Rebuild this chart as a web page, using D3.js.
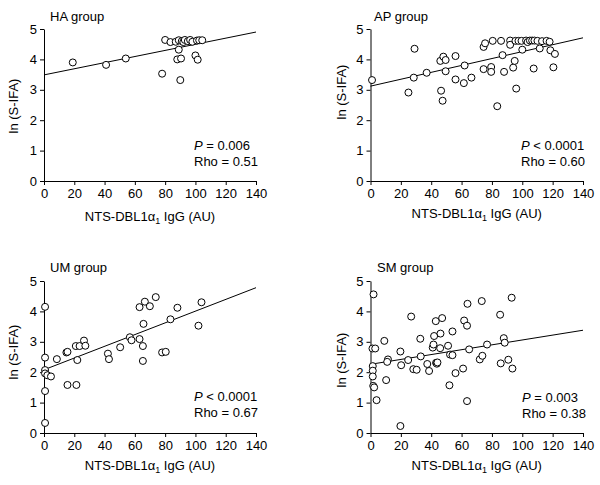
<!DOCTYPE html>
<html>
<head>
<meta charset="utf-8">
<script src="https://cdn.jsdelivr.net/npm/d3@7"></script>
<style>
  html, body { margin: 0; padding: 0; background: #fff; }
  svg text { font-family: "Liberation Sans", Arial, sans-serif; fill: #000; }
</style>
</head>
<body>
<svg id="chart" width="600" height="485"></svg>
<script>
// ---- data ----
const groupNames = ["HA group", "AP group", "UM group", "SM group"];
const pRelations = ["=", "<", "<", "="];
const pValues = ["0.006", "0.0001", "0.0001", "0.003"];
const rhoValues = ["0.51", "0.60", "0.67", "0.38"];
const xTicks = [0, 20, 40, 60, 80, 100, 120, 140];
const yTicks = [0, 1, 2, 3, 4, 5];
const xLabel = "NTS-DBL1";
const yLabel = "ln (S-IFA)";

const haX = [19, 41, 54, 78, 80, 83.5, 87, 89, 91, 92, 93, 95, 96.5, 98, 101, 102.5, 104.5, 89, 88, 90.5, 90, 100, 101.5];
const haY = [3.9, 3.82, 4.03, 3.53, 4.64, 4.57, 4.58, 4.63, 4.6, 4.57, 4.64, 4.6, 4.64, 4.58, 4.62, 4.63, 4.63, 4.32, 4.0, 4.03, 3.32, 4.13, 3.99];

const apX = [1, 25, 28.5, 29, 37, 46, 46.5, 47.5, 48, 49.5, 49.5, 56, 56, 61.5, 62, 66.5, 74.5, 74.5, 75.5, 79.5, 79.5, 80.5, 83.5, 86, 87, 88, 92, 92, 94, 95, 95.5, 96, 97.5, 99.5, 100, 102.5, 103.5, 105, 106.5, 107.5, 108, 110, 111.5, 113, 116, 118, 118.5, 120.5, 121.5];
const apY = [3.32, 2.91, 3.4, 4.35, 3.56, 3.95, 2.97, 2.64, 4.09, 3.98, 3.61, 4.11, 3.34, 3.22, 3.8, 3.4, 3.68, 4.41, 4.53, 3.75, 3.59, 4.61, 2.46, 4.61, 4.14, 3.59, 4.62, 4.48, 3.73, 3.95, 4.61, 3.04, 4.61, 4.61, 4.32, 4.62, 4.57, 4.62, 4.62, 3.7, 4.62, 4.61, 4.36, 4.6, 4.61, 4.58, 4.3, 3.74, 4.18];

const umX = [0.7, 0.7, 0.7, 0.7, 2.2, 4.6, 0.7, 0.7, 8.5, 14.8, 15.5, 15.5, 21, 21.4, 22, 23.5, 26.4, 27.3, 42.2, 42.9, 50.3, 56.7, 57.8, 63.1, 63.1, 65.3, 65.3, 65.7, 66.6, 69.9, 73.8, 78, 80.4, 83.5, 88.1, 102, 104];
const umY = [4.15, 2.48, 2.07, 1.96, 1.9, 1.86, 1.38, 0.33, 2.43, 2.65, 2.67, 1.58, 2.86, 1.58, 2.4, 2.86, 3.04, 2.87, 2.61, 2.43, 2.82, 3.15, 3.05, 3.09, 4.14, 2.86, 2.37, 3.59, 4.32, 4.17, 4.47, 2.65, 2.67, 3.74, 4.12, 3.53, 4.30];

const smX = [2, 1.3, 3.1, 9.1, 1.5, 1.5, 1.5, 1.8, 2.4, 4, 10.3, 11.5, 11, 19.7, 20.2, 19.7, 24.8, 26.8, 28.2, 30.4, 32.8, 33.1, 37.4, 38.6, 41, 41.5, 41.9, 43, 43.2, 43.7, 44.1, 46.1, 45.9, 47.2, 51.1, 52, 52.4, 54, 54, 56, 61, 61.7, 63.6, 63.9, 63.6, 65, 72, 73.7, 73.3, 76.8, 85.4, 85.8, 87.8, 88.4, 90.8, 93, 93.5];
const smY = [4.56, 2.78, 2.78, 3.03, 2.2, 2.05, 1.86, 1.55, 1.5, 1.08, 1.74, 2.42, 2.34, 2.68, 2.23, 0.23, 2.4, 3.83, 2.1, 2.08, 3.1, 2.52, 2.27, 2.04, 2.81, 2.91, 3.19, 3.68, 2.31, 2.28, 2.32, 3.27, 2.79, 3.78, 2.87, 1.57, 2.58, 3.34, 2.56, 1.97, 2.12, 3.7, 3.53, 4.25, 1.05, 2.75, 2.42, 2.54, 4.34, 2.91, 3.89, 2.29, 3.12, 2.97, 2.41, 4.45, 2.12];

// regression line values read at x = 0 and x = 140
const fitX = [0, 140];
const fitStartY = [3.49, 3.12, 2.08, 2.26];
const fitEndY = [4.90, 4.71, 4.78, 3.38];

const seriesX = [haX, apX, umX, smX];
const seriesY = [haY, apY, umY, smY];

// ---- layout ----
const layout = [
  { left: 44, right: 256, top: 29, bottom: 181, titleX: 50, titleY: 21, yLabX: 18, yLabY: 106, xLabY: 221, annX: 194, annY: 150 },
  { left: 370.5, right: 583, top: 29, bottom: 181, titleX: 374, titleY: 21, yLabX: 346, yLabY: 92, xLabY: 218, annX: 521, annY: 150 },
  { left: 44, right: 256, top: 281, bottom: 433, titleX: 50, titleY: 272, yLabX: 18, yLabY: 352, xLabY: 470, annX: 194, annY: 401 },
  { left: 370.5, right: 583, top: 281, bottom: 433, titleX: 377, titleY: 272, yLabX: 346, yLabY: 360, xLabY: 470, annX: 522, annY: 402 }
];

const svg = d3.select("#chart");
const fs = 13;

layout.forEach((L, i) => {
  const x = d3.scaleLinear().domain([0, 140]).range([L.left, L.right]);
  const y = d3.scaleLinear().domain([0, 5]).range([L.bottom, L.top]);
  const g = svg.append("g");

  // axes
  const xAxis = d3.axisBottom(x).tickValues(xTicks).tickFormat(d3.format("d")).tickSize(4).tickPadding(4).tickSizeOuter(0);
  const yAxis = d3.axisLeft(y).tickValues(yTicks).tickFormat(d3.format("d")).tickSize(4).tickPadding(3).tickSizeOuter(0);
  const gx = g.append("g").attr("transform", `translate(0,${L.bottom})`).call(xAxis);
  const gy = g.append("g").attr("transform", `translate(${L.left},0)`).call(yAxis);
  [gx, gy].forEach(a => {
    a.selectAll("path, line").attr("stroke", "#000").attr("stroke-width", 1);
    a.selectAll("text").attr("font-size", fs).attr("font-family", '"Liberation Sans", Arial, sans-serif').attr("fill", "#000");
  });

  // regression line
  const fitData = [[fitX[0], fitStartY[i]], [fitX[1], fitEndY[i]]];
  g.append("path")
    .attr("d", d3.line().x(d => x(d[0])).y(d => y(d[1]))(fitData))
    .attr("stroke", "#000").attr("stroke-width", 1).attr("fill", "none");

  // points
  const pts = seriesX[i].map((v, k) => [v, seriesY[i][k]]);
  g.selectAll("circle.pt").data(pts).enter().append("circle")
    .attr("class", "pt")
    .attr("cx", d => x(d[0])).attr("cy", d => y(d[1]))
    .attr("r", 3.5)
    .attr("fill", "#fff").attr("stroke", "#000").attr("stroke-width", 1);

  // title
  g.append("text").attr("x", L.titleX).attr("y", L.titleY).attr("font-size", fs).text(groupNames[i]);

  // y label
  g.append("text")
    .attr("transform", `translate(${L.yLabX},${L.yLabY}) rotate(-90)`)
    .attr("text-anchor", "middle").attr("font-size", fs).text(yLabel);

  // x label with subscript
  const xl = g.append("text")
    .attr("x", (L.left + L.right) / 2).attr("y", L.xLabY)
    .attr("text-anchor", "middle").attr("font-size", fs);
  xl.append("tspan").text(xLabel + "\u03B1");
  xl.append("tspan").attr("font-size", 9).attr("dy", 3).text("1");
  xl.append("tspan").attr("dy", -3).text(" IgG (AU)");

  // annotations
  const t1 = g.append("text").attr("x", L.annX).attr("y", L.annY).attr("font-size", fs);
  t1.append("tspan").attr("font-style", "italic").text("P");
  t1.append("tspan").text(" " + pRelations[i] + " " + pValues[i]);
  g.append("text").attr("x", L.annX).attr("y", L.annY + 16).attr("font-size", fs).text("Rho = " + rhoValues[i]);
});
</script>
</body>
</html>
